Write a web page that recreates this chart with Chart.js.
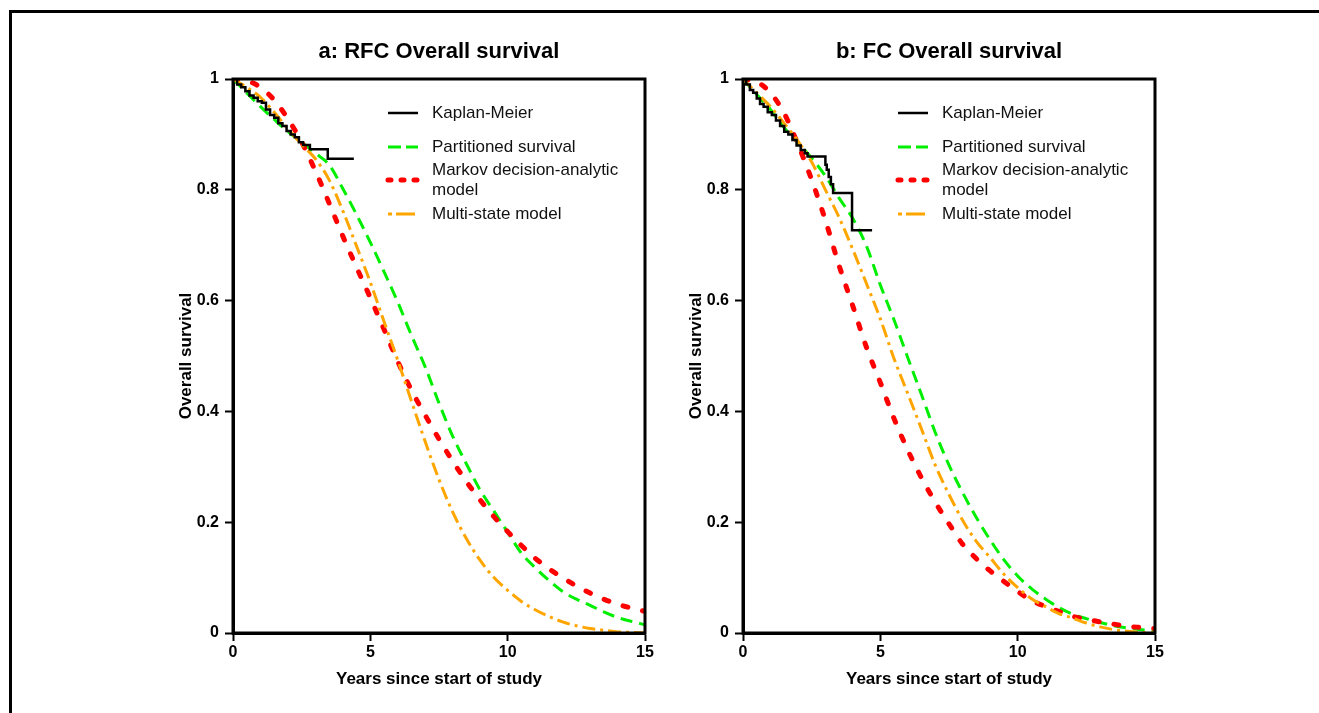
<!DOCTYPE html>
<html>
<head>
<meta charset="utf-8">
<script src="https://cdn.jsdelivr.net/npm/chart.js@4.4.1/dist/chart.umd.min.js"></script>
<style>
  html, body { margin: 0; padding: 0; background: #fff; overflow: hidden; }
  #frame { position: absolute; left: 9px; top: 10px; width: 1400px; height: 800px;
           border-left: 3px solid #000; border-top: 3px solid #000; }
  canvas { position: absolute; top: 0; }
  #cA { left: 0; }
  #cB { left: 510px; }
</style>
</head>
<body>
<div id="frame"></div>
<canvas id="cA" width="680" height="713"></canvas>
<canvas id="cB" width="680" height="713"></canvas>
<script>
// ---------------- DATA ----------------
const panelTitles = ['a: RFC Overall survival', 'b: FC Overall survival'];
const xAxisTitle = 'Years since start of study';
const yAxisTitle = 'Overall survival';
const xTickValues = [0, 5, 10, 15];
const yTickValues = [0, 0.2, 0.4, 0.6, 0.8, 1];
const seriesNames = ['Kaplan-Meier', 'Partitioned survival', ['Markov decision-analytic', 'model'], 'Multi-state model'];

// model curves sampled every half year
const modelYears = [0,0.5,1,1.5,2,2.5,3,3.5,4,4.5,5,5.5,6,6.5,7,7.5,8,8.5,9,9.5,10,10.5,11,11.5,12,12.5,13,13.5,14,14.5,15];

// Panel a: RFC
const kmTimesA = [0,0.15,0.3,0.45,0.6,0.75,0.9,1.05,1.2,1.35,1.5,1.65,1.8,1.95,2.1,2.25,2.4,2.55,2.8,3.45,4.4];
const kmSurvA  = [1,0.99,0.985,0.978,0.97,0.966,0.96,0.957,0.945,0.935,0.93,0.92,0.915,0.906,0.9,0.895,0.886,0.881,0.873,0.856,0.856];
const partitionedA = [1,0.975,0.95,0.927,0.905,0.886,0.866,0.845,0.802,0.755,0.705,0.652,0.597,0.537,0.48,0.415,0.355,0.305,0.258,0.22,0.182,0.144,0.118,0.095,0.075,0.061,0.05,0.038,0.028,0.021,0.015];
const markovA      = [1,0.997,0.985,0.962,0.928,0.886,0.834,0.776,0.716,0.66,0.605,0.548,0.49,0.438,0.393,0.35,0.31,0.273,0.24,0.21,0.183,0.158,0.135,0.116,0.1,0.085,0.072,0.061,0.052,0.045,0.039];
const multiStateA  = [1,0.985,0.967,0.94,0.91,0.882,0.856,0.818,0.762,0.698,0.633,0.562,0.492,0.418,0.345,0.277,0.218,0.17,0.131,0.1,0.077,0.057,0.042,0.03,0.02,0.013,0.008,0.005,0.002,0.001,0];

// Panel b: FC
const kmTimesB = [0,0.12,0.25,0.37,0.5,0.62,0.75,0.9,1.05,1.2,1.35,1.5,1.65,1.8,1.95,2.1,2.25,2.35,3.0,3.05,3.12,3.2,3.28,3.97,4.7];
const kmSurvB  = [1,0.99,0.98,0.975,0.965,0.955,0.95,0.94,0.935,0.925,0.915,0.905,0.9,0.89,0.88,0.872,0.866,0.86,0.845,0.836,0.823,0.81,0.794,0.727,0.727];
const partitionedB = [1,0.972,0.945,0.912,0.885,0.857,0.825,0.785,0.748,0.698,0.628,0.565,0.497,0.43,0.362,0.303,0.253,0.208,0.168,0.132,0.103,0.08,0.062,0.046,0.034,0.026,0.019,0.013,0.009,0.006,0.004];
const markovB      = [1,0.995,0.975,0.938,0.882,0.818,0.745,0.663,0.59,0.515,0.452,0.387,0.33,0.28,0.236,0.197,0.16,0.134,0.112,0.093,0.075,0.059,0.048,0.039,0.03,0.025,0.02,0.016,0.012,0.01,0.008];
const multiStateB  = [1,0.975,0.95,0.92,0.888,0.85,0.8,0.75,0.692,0.63,0.567,0.495,0.432,0.368,0.303,0.25,0.203,0.165,0.136,0.106,0.082,0.062,0.048,0.035,0.027,0.018,0.011,0.006,0.003,0.001,0];

// ---------------- STYLES ----------------
const FONT = "'Liberation Sans', Arial, sans-serif";
const styles = [
  { color: '#000000', width: 2.5, dash: [], legendDash: [], cap: 'butt' },
  { color: '#00ee00', width: 3, dash: [12, 7], legendDash: [13, 5], cap: 'butt' },
  { color: '#ff0000', width: 5, dash: [5, 15], legendDash: [3, 10], cap: 'round' },
  { color: '#ffa500', width: 3, dash: [13, 5, 3, 5], legendDash: [4, 4, 19, 4], cap: 'butt' }
];

const toPts = (xs, ys) => xs.map((x, i) => ({ x: x, y: ys[i] }));

const framePlugin = {
  id: 'framePlugin',
  afterDatasetsDraw(chart) {
    const { ctx, chartArea: a } = chart;
    ctx.save();
    ctx.strokeStyle = '#000';
    ctx.lineWidth = 3;
    ctx.strokeRect(a.left, a.top, a.right - a.left, a.bottom - a.top);
    ctx.restore();
  },
  afterDraw(chart) {
    const { ctx, chartArea: a } = chart;
    const opts = chart.options.plugins.framePlugin;
    ctx.save();
    // panel title
    ctx.fillStyle = '#000';
    ctx.font = 'bold 22px ' + FONT;
    ctx.textAlign = 'center';
    ctx.textBaseline = 'middle';
    ctx.fillText(opts.title, (a.left + a.right) / 2, a.top - 27);
    // legend
    const rows = [34, 68, 101, 135];
    const x0 = a.left + 155, x1 = a.left + 185, tx = a.left + 199;
    ctx.font = '17px ' + FONT;
    ctx.textAlign = 'left';
    chart.data.datasets.forEach((ds, i) => {
      const y = a.top + rows[i];
      const st = styles[i];
      ctx.beginPath();
      ctx.setLineDash(st.legendDash);
      ctx.lineCap = st.cap;
      ctx.lineWidth = st.width;
      ctx.strokeStyle = st.color;
      ctx.moveTo(x0, y);
      ctx.lineTo(x1, y);
      ctx.stroke();
      ctx.setLineDash([]);
      ctx.lineCap = 'butt';
      ctx.fillStyle = '#111';
      const lab = seriesNames[i];
      if (Array.isArray(lab)) {
        lab.forEach((l, k) => ctx.fillText(l, tx, y - 10 + k * 20));
      } else {
        ctx.fillText(lab, tx, y);
      }
    });
    ctx.restore();
  }
};

function makeChart(id, title, kmT, kmS, part, mark, multi) {
  const series = [toPts(kmT, kmS), toPts(modelYears, part), toPts(modelYears, mark), toPts(modelYears, multi)];
  const datasets = series.map((d, i) => ({
    label: Array.isArray(seriesNames[i]) ? seriesNames[i].join(' ') : seriesNames[i],
    data: d,
    borderColor: styles[i].color,
    borderWidth: styles[i].width,
    borderDash: styles[i].dash,
    borderCapStyle: styles[i].cap,
    pointRadius: 0,
    fill: false,
    stepped: i === 0 ? 'before' : false,
    cubicInterpolationMode: i === 0 ? 'default' : 'monotone',
    order: i === 0 ? 0 : 4 - i
  }));
  const tickFont = { family: FONT, size: 16, weight: 'bold' };
  const titleFont = { family: FONT, size: 17, weight: 'bold' };
  new Chart(document.getElementById(id), {
    type: 'line',
    data: { datasets: datasets },
    options: {
      responsive: false,
      animation: false,
      devicePixelRatio: 1,
      layout: { padding: { left: 176, right: 35, top: 79, bottom: 23 } },
      plugins: {
        legend: { display: false },
        tooltip: { enabled: false },
        framePlugin: { title: title }
      },
      scales: {
        x: {
          type: 'linear', min: 0, max: 15,
          afterBuildTicks: s => { s.ticks = xTickValues.map(v => ({ value: v })); },
          afterFit: s => { s.height = 57; },
          ticks: { font: tickFont, color: '#000', padding: 2, maxRotation: 0, callback: v => String(v) },
          grid: { display: true, drawOnChartArea: false, drawTicks: true, tickLength: 8, tickWidth: 2, tickColor: '#000' },
          border: { display: true, color: '#000', width: 3 },
          title: { display: true, text: xAxisTitle, color: '#000', padding: 0, font: titleFont }
        },
        y: {
          type: 'linear', min: 0, max: 1,
          afterBuildTicks: s => { s.ticks = yTickValues.map(v => ({ value: v })); },
          afterFit: s => { s.width = 57; },
          ticks: { font: tickFont, color: '#000', padding: 6, callback: v => String(+Number(v).toFixed(1)) },
          grid: { display: true, drawOnChartArea: false, drawTicks: true, tickLength: 8, tickWidth: 2, tickColor: '#000' },
          border: { display: true, color: '#000', width: 3 },
          title: { display: true, text: yAxisTitle, color: '#000', padding: 0, font: titleFont }
        }
      }
    },
    plugins: [framePlugin]
  });
}

makeChart('cA', panelTitles[0], kmTimesA, kmSurvA, partitionedA, markovA, multiStateA);
makeChart('cB', panelTitles[1], kmTimesB, kmSurvB, partitionedB, markovB, multiStateB);
</script>
</body>
</html>
